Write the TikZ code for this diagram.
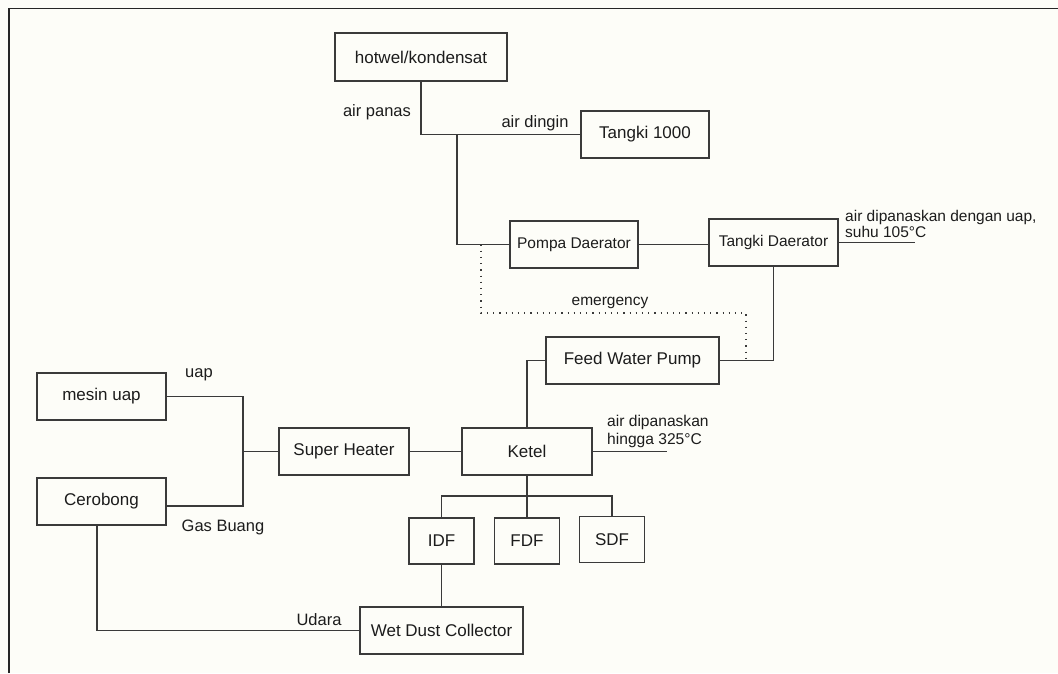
\documentclass[tikz,border=0pt]{standalone}
\usepackage{fontspec}
\setmainfont{Liberation Sans}
\definecolor{paper}{RGB}{253,253,248}
\definecolor{linecol}{RGB}{58,58,58}
\definecolor{ink}{RGB}{28,28,28}
\begin{document}
\begin{tikzpicture}[x=1pt,y=-1pt,
  box/.style={draw=linecol, line width=1.4pt, minimum height=47pt, inner sep=0pt,
              text=ink, font=\fontsize{17}{20}\selectfont},
  smallbox/.style={box, font=\fontsize{15.5}{18}\selectfont},
  fan/.style={box, minimum width=65pt, minimum height=46pt},
  pipe/.style={draw=linecol, line width=1.4pt},
  emerg/.style={draw=linecol, line width=1.3pt, dash pattern=on 1.2pt off 5pt},
  frame/.style={draw=black!85, line width=1.8pt},
  lbl/.style={inner sep=0pt, text=ink, font=\fontsize{16.5}{18}\selectfont},
]
\useasboundingbox (0,0) rectangle (1058,673);
\fill[paper] (0,0) rectangle (1058,673);
\draw[frame] (9,673) -- (9,8.5) -- (1058,8.5);

% process units
\node[box, minimum width=172pt, minimum height=48pt] (hot) at (421,57) {hotwel/kondensat};
\node[box, minimum width=128pt] (tank) at (645,134.5) {Tangki 1000};
\node[smallbox, minimum width=128pt] (pump) at (574,244.5) {Pompa Daerator};
\node[smallbox, minimum width=129pt] (deaer) at (773.5,242.5) {Tangki Daerator};
\node[box, minimum width=173pt] (fwp) at (632.5,360.5) {Feed Water Pump};
\node[box, minimum width=129pt] (engine) at (101.5,396.5) {mesin uap};
\node[box, minimum width=129pt] (stack) at (101.5,501.5) {Cerobong};
\node[box, minimum width=130pt] (sheat) at (344,451.5) {Super Heater};
\node[box, minimum width=130pt] (boiler) at (527,451.5) {Ketel};
\node[fan] (idf) at (441.5,541) {IDF};
\node[fan] (fdf) at (527,541) {FDF};
\node[fan] (sdf) at (612,539.5) {SDF};
\node[box, minimum width=163pt] (wdc) at (441.5,630.5) {Wet Dust Collector};

% junctions and open pipe ends
\coordinate (jA) at (457,134.5);
\coordinate (steamout) at (915,242.5);
\coordinate (eA) at (481,244.5);
\coordinate (eB) at (746,360.5);
\coordinate (eRow) at (0,313);
\coordinate (hotout) at (667,451.5);
\coordinate (jS) at (243,451.5);
\coordinate (fanbus) at (527,496);

% water side
\draw[pipe] (hot.south) |- (tank.west);
\draw[pipe] (jA) |- (pump.west);
\draw[pipe] (pump.east) -- (pump.east -| deaer.west);
\draw[pipe] (deaer.east) -- (steamout);
\draw[pipe] (deaer.south) |- (fwp.east);
\draw[emerg] (eA) -- (eA |- eRow) -| (eB);
\draw[pipe] (fwp.west) -| (boiler.north);
\draw[pipe] (boiler.east) -- (hotout);

% steam and flue gas side
\draw[pipe] (sheat.east) -- (boiler.west);
\draw[pipe] (engine.east) -| (jS) |- ([yshift=-4.5pt]stack.east);
\draw[pipe] (jS) -- (sheat.west);
\draw[pipe] (boiler.south) -- (fdf.north);
\draw[pipe] (idf.north) |- (fanbus) -| (sdf.north);
\draw[pipe] (idf.south) -- (wdc.north);
\draw[pipe] ([xshift=-4.5pt]stack.south) |- (wdc.west);

% stream labels
\node[lbl] at (377,112) {air panas};
\node[lbl] at (535,123) {air dingin};
\node[lbl, font=\fontsize{15.5}{15.5}\selectfont, align=left, anchor=north west]
  at (845,210.5) {air dipanaskan dengan uap,\\suhu 105°C};
\node[lbl, font=\fontsize{15.5}{18}\selectfont] at (610,303) {emergency};
\node[lbl] at (199,375) {uap};
\node[lbl] at (223,527) {Gas Buang};
\node[lbl, font=\fontsize{15.6}{18}\selectfont, align=left, anchor=north west]
  at (607,414.5) {air dipanaskan\\hingga 325°C};
\node[lbl] at (319,620) {Udara};
\end{tikzpicture}
\end{document}
